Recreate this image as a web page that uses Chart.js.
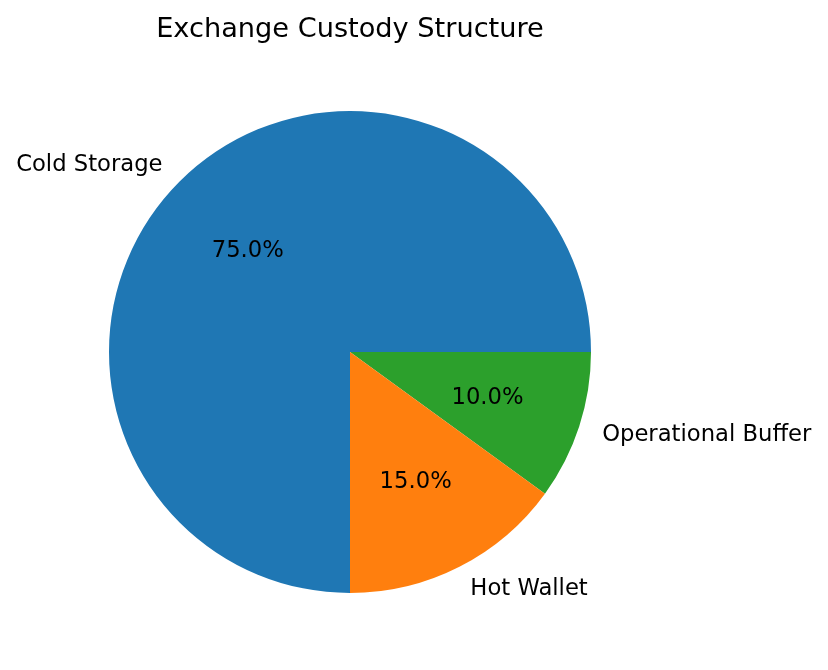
<!DOCTYPE html>
<html><head><meta charset="utf-8">
<script src="https://cdn.jsdelivr.net/npm/chart.js@4"></script>
<style>html,body{margin:0;padding:0;background:#fff}canvas{display:block}</style>
</head><body>
<canvas id="c" width="828" height="670"></canvas>
<script>
// Data (counter-clockwise order as in the original, starting at 3 o'clock)
const categories = ["Cold Storage", "Hot Wallet", "Operational Buffer"];
const shares = [75, 15, 10];
const colors = ["#1f77b4", "#ff7f0e", "#2ca02c"];
const titleText = "Exchange Custody Structure";

// Chart.js draws clockwise; reverse so the visual order matches
const labelsCW = categories.slice().reverse();
const valuesCW = shares.slice().reverse();
const colorsCW = colors.slice().reverse();

const FONT = "'DejaVu Sans', sans-serif";

const labelPlugin = {
  id: 'pieLabels',
  afterDraw(chart) {
    const ctx = chart.ctx;
    const meta = chart.getDatasetMeta(0);
    const total = valuesCW.reduce((a, b) => a + b, 0);
    ctx.save();
    ctx.fillStyle = '#000';
    // title
    ctx.font = "27.2px " + FONT;
    ctx.textAlign = 'center';
    ctx.textBaseline = 'middle';
    ctx.fillText(titleText, 350, 30);
    meta.data.forEach((arc, i) => {
      const p = arc.getProps(['x', 'y', 'startAngle', 'endAngle', 'outerRadius'], true);
      const mid = (p.startAngle + p.endAngle) / 2;
      const r = p.outerRadius;
      const cx = p.x, cy = p.y;
      ctx.font = "22.7px " + FONT;
      ctx.textBaseline = 'middle';
      // percentage
      ctx.textAlign = 'center';
      const pct = (valuesCW[i] / total * 100).toFixed(1) + '%';
      ctx.fillText(pct, cx + Math.cos(mid) * r * 0.6, cy + Math.sin(mid) * r * 0.6 + 1);
      // label
      const lx = cx + Math.cos(mid) * r * 1.1;
      const ly = cy + Math.sin(mid) * r * 1.1 + 1;
      ctx.textAlign = Math.cos(mid) >= 0 ? 'left' : 'right';
      ctx.fillText(labelsCW[i], lx, ly);
    });
    ctx.restore();
  }
};

new Chart(document.getElementById('c'), {
  type: 'pie',
  data: {
    labels: labelsCW,
    datasets: [{
      data: valuesCW,
      backgroundColor: colorsCW,
      borderWidth: 0
    }]
  },
  options: {
    responsive: false,
    animation: false,
    rotation: 90,
    layout: { padding: { left: 109, right: 237, top: 111, bottom: 77 } },
    plugins: {
      legend: { display: false },
      tooltip: { enabled: false },
      title: { display: false }
    }
  },
  plugins: [labelPlugin]
});
</script>
</body></html>
